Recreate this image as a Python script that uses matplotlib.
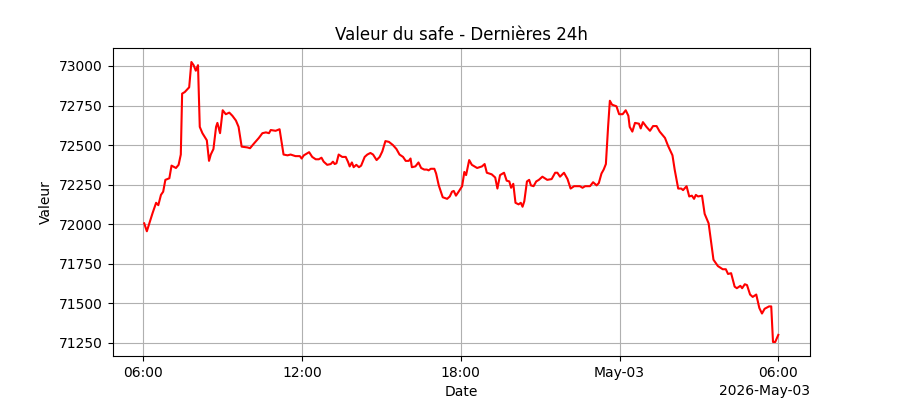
import pandas as pd
import matplotlib
matplotlib.use("Agg")
import matplotlib.pyplot as plt
import matplotlib.dates as mdates

# minutes after 2026-05-02 06:00 and safe value
minutes = [2, 8, 21, 29, 34, 40, 45, 50, 59, 64, 74, 80, 85, 88, 94, 104, 109, 114, 119, 124,
           128, 134, 144, 149, 153, 159, 165, 168, 174, 180, 187, 195, 202, 210, 216, 223, 236, 242, 251, 262,
           270, 278, 285, 289, 300, 309, 318, 327, 334, 345, 355, 359, 364, 376, 383, 391, 398, 404, 409, 417,
           425, 430, 434, 438, 443, 451, 459, 464, 468, 473, 477, 483, 489, 494, 502, 508, 515, 521, 529, 536,
           542, 549, 557, 566, 574, 581, 589, 595, 602, 606, 609, 617, 624, 630, 637, 643, 647, 652, 660, 664,
           670, 679, 689, 695, 700, 704, 709, 715, 723, 728, 732, 739, 745, 757, 768, 774, 779, 790, 798, 803,
           809, 818, 824, 830, 834, 839, 844, 851, 856, 860, 864, 870, 875, 879, 885, 891, 897, 905, 916, 926,
           934, 939, 945, 954, 962, 969, 977, 990, 996, 1002, 1013, 1020, 1028, 1033, 1039, 1044, 1049, 1054, 1058, 1063,
           1073, 1079, 1087, 1094, 1100, 1103, 1109, 1115, 1124, 1128, 1133, 1141, 1149, 1156, 1164, 1171, 1183, 1190, 1200, 1205,
           1213, 1220, 1224, 1232, 1238, 1244, 1249, 1253, 1258, 1267, 1273, 1282, 1293, 1303, 1314, 1321, 1326, 1333, 1341, 1346,
           1354, 1358, 1364, 1369, 1376, 1382, 1390, 1397, 1403, 1409, 1419, 1424, 1428, 1433, 1440]
valeurs = [72005, 71955, 72070, 72135, 72120, 72185, 72205, 72280, 72290, 72370, 72355, 72375, 72440, 72825, 72835, 72865, 73025, 73005, 72970, 73005,
           72615, 72575, 72530, 72400, 72440, 72475, 72615, 72640, 72575, 72720, 72695, 72705, 72685, 72655, 72615, 72490, 72485, 72480, 72510, 72545,
           72575, 72580, 72575, 72595, 72590, 72600, 72440, 72435, 72440, 72430, 72430, 72415, 72435, 72455, 72425, 72410, 72410, 72420, 72395, 72375,
           72380, 72395, 72380, 72385, 72440, 72425, 72425, 72395, 72365, 72390, 72360, 72375, 72360, 72370, 72425, 72440, 72450, 72440, 72405, 72425,
           72460, 72525, 72520, 72500, 72475, 72440, 72425, 72400, 72400, 72415, 72360, 72365, 72390, 72355, 72345, 72345, 72340, 72350, 72350, 72320,
           72245, 72170, 72160, 72175, 72205, 72210, 72180, 72205, 72240, 72330, 72310, 72405, 72375, 72355, 72365, 72380, 72325, 72315, 72295, 72225,
           72310, 72325, 72275, 72270, 72230, 72255, 72135, 72125, 72135, 72110, 72145, 72270, 72280, 72245, 72240, 72270, 72280, 72300, 72280, 72285,
           72325, 72325, 72300, 72325, 72285, 72225, 72240, 72240, 72230, 72240, 72240, 72265, 72245, 72260, 72320, 72345, 72380, 72615, 72780, 72755,
           72745, 72695, 72695, 72720, 72685, 72615, 72585, 72640, 72635, 72605, 72645, 72615, 72590, 72620, 72620, 72585, 72545, 72495, 72435, 72345,
           72225, 72225, 72215, 72240, 72175, 72180, 72160, 72185, 72175, 72180, 72065, 72005, 71775, 71735, 71715, 71715, 71685, 71690, 71605, 71595,
           71610, 71595, 71620, 71615, 71555, 71540, 71555, 71470, 71435, 71465, 71480, 71480, 71255, 71255, 71300]

debut = pd.Timestamp("2026-05-02 06:00")
dates = debut + pd.to_timedelta(minutes, unit="m")

fig, ax = plt.subplots(figsize=(9, 4), dpi=100)
ax.plot(dates, valeurs, color="red", linewidth=1.5)

locator = mdates.HourLocator(byhour=[0, 6, 12, 18])
ax.xaxis.set_major_locator(locator)
ax.xaxis.set_major_formatter(mdates.ConciseDateFormatter(locator))

ax.set_title("Valeur du safe - Dernières 24h")
ax.set_xlabel("Date")
ax.set_ylabel("Valeur")
ax.grid(True)

plt.savefig("out.png")
